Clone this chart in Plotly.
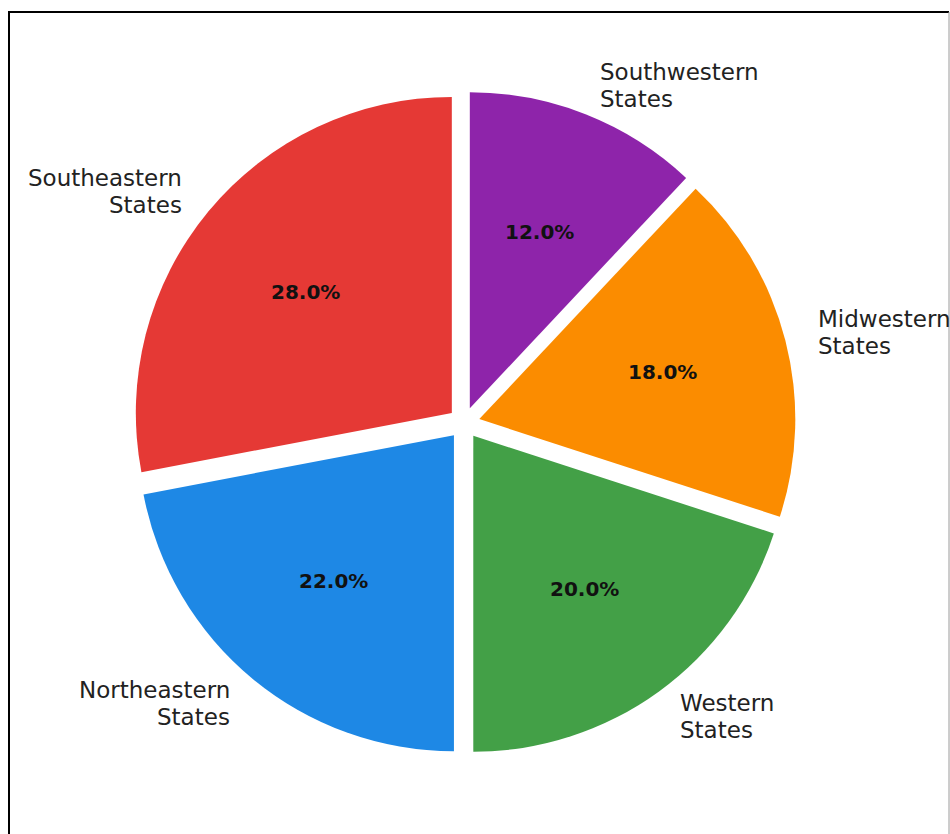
import math
import plotly.graph_objects as go

# Regional share data, clockwise from 12 o'clock
regions = ["Southwestern States", "Midwestern States", "Western States",
           "Northeastern States", "Southeastern States"]
shares = [12, 18, 20, 22, 28]
colors = ["#8E24AA", "#FB8C00", "#43A047", "#1E88E5", "#E53935"]
explode = [0.05, 0.05, 0.05, 0.05, 0.05]

W, H = 950, 834
cx, cy = 464, 423          # pie centre, pixels from top-left
radius = 316               # pie radius, pixels
label_dist = 1.1
pct_dist = 0.6
line_gap = 27              # pixel spacing between label lines

half = radius * (1 + max(explode))
domain_x = [(cx - half) / W, (cx + half) / W]
domain_y = [(H - cy - half) / H, (H - cy + half) / H]

fig = go.Figure(go.Pie(
    labels=regions,
    values=shares,
    sort=False,
    direction="clockwise",
    rotation=0,
    pull=explode,
    marker=dict(colors=colors, line=dict(width=0)),
    textinfo="none",
    hoverinfo="label+percent",
    domain=dict(x=domain_x, y=domain_y),
    showlegend=False,
))

# Wedge labels and percentages placed along each wedge's bisector
total = sum(shares)
start = 90.0
annotations = []
for name, v, ex in zip(regions, shares, explode):
    sweep = 360.0 * v / total
    mid = math.radians(start - sweep / 2)
    start -= sweep
    ox = cx + ex * radius * math.cos(mid)
    oy = cy - ex * radius * math.sin(mid)

    lx = ox + label_dist * radius * math.cos(mid)
    ly = oy - label_dist * radius * math.sin(mid)
    side = "left" if math.cos(mid) > 0 else "right"
    lines = name.split(" ")
    n = len(lines)
    for i, part in enumerate(lines):
        annotations.append(dict(
            x=lx / W, y=1 - ly / H, xref="paper", yref="paper",
            yshift=((n - 1) / 2 - i) * line_gap,
            text=part, showarrow=False,
            xanchor=side, yanchor="middle", align=side,
            font=dict(family="DejaVu Sans", size=23, color="#222222"),
        ))

    px = ox + pct_dist * radius * math.cos(mid)
    py = oy - pct_dist * radius * math.sin(mid)
    annotations.append(dict(
        x=px / W, y=1 - py / H, xref="paper", yref="paper",
        text=f"<b>{v / total * 100:.1f}%</b>", showarrow=False,
        xanchor="center", yanchor="middle",
        font=dict(family="DejaVu Sans", size=20, color="#111111"),
    ))

# Figure frame
shapes = [
    dict(type="line", xref="paper", yref="paper",
         x0=9 / W, x1=9 / W, y0=-0.05, y1=1 - 11 / H,
         line=dict(color="black", width=2)),
    dict(type="line", xref="paper", yref="paper",
         x0=8 / W, x1=949 / W, y0=1 - 12 / H, y1=1 - 12 / H,
         line=dict(color="black", width=2)),
    dict(type="line", xref="paper", yref="paper",
         x0=949 / W, x1=949 / W, y0=-0.05, y1=1 - 12 / H,
         line=dict(color="#9a9a9a", width=1)),
]

fig.update_layout(
    width=W, height=H,
    margin=dict(l=0, r=0, t=0, b=0),
    paper_bgcolor="white",
    plot_bgcolor="white",
    annotations=annotations,
    shapes=shapes,
)

fig.write_html("out.html")
